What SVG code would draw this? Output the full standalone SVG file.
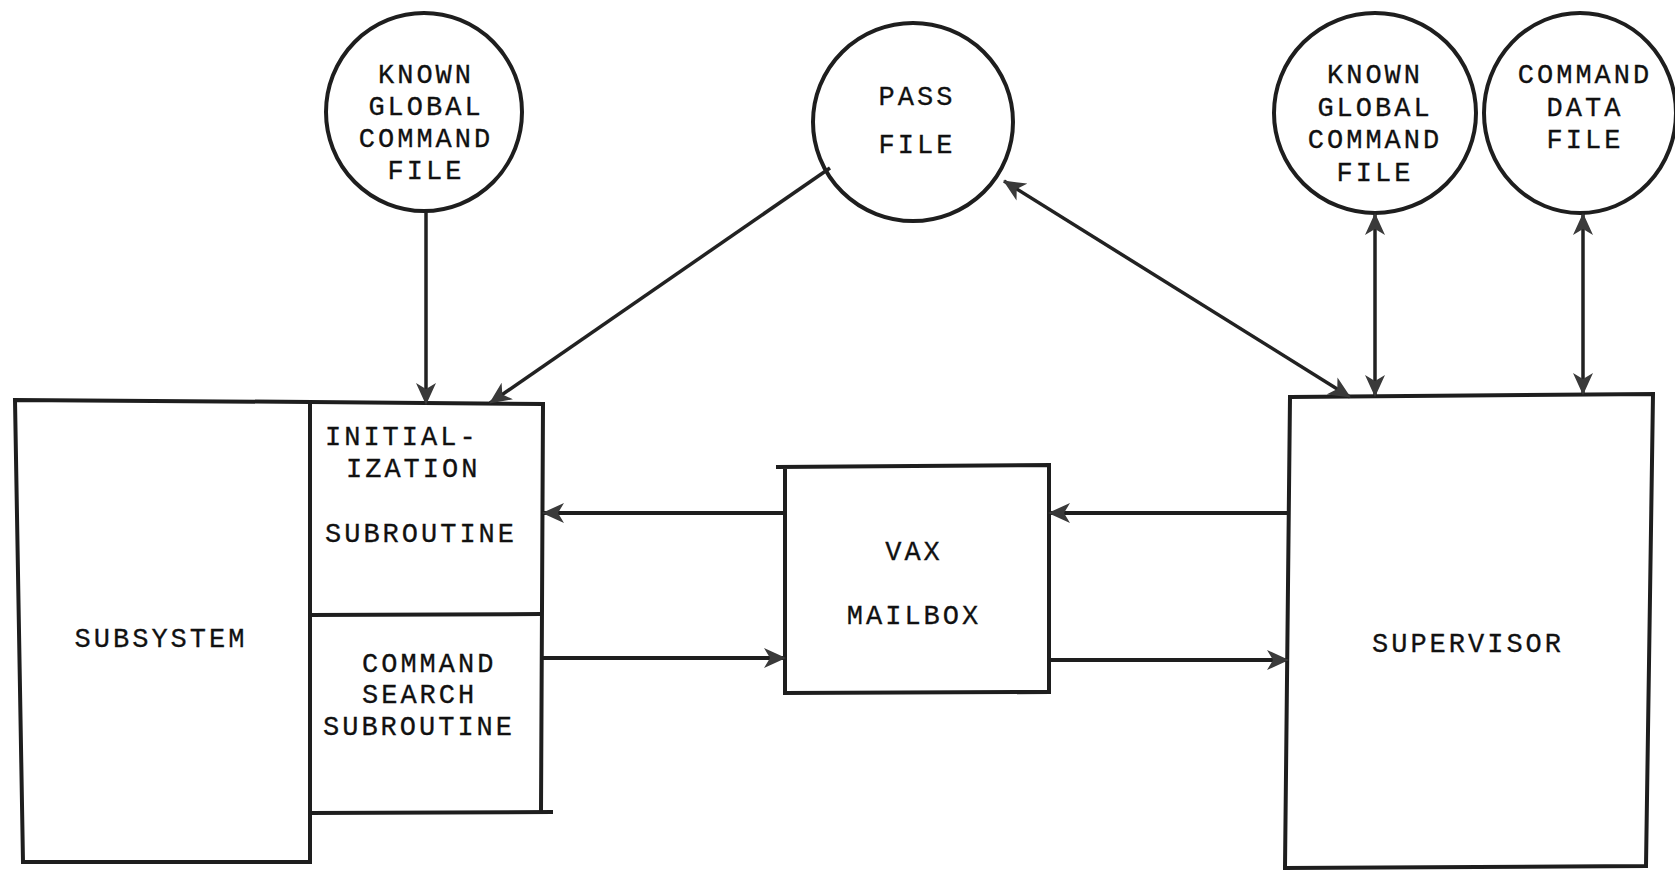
<svg xmlns="http://www.w3.org/2000/svg" width="1675" height="872" viewBox="0 0 1675 872">
<style>
.sh{fill:#fff;stroke:#1e1e1e;stroke-width:4;stroke-linejoin:miter}
.ln{fill:none;stroke:#1e1e1e;stroke-width:4}
.cn{fill:none;stroke:#222;stroke-width:3.5}
text{font-family:"Liberation Mono","Courier New",monospace;font-size:27px;letter-spacing:3px;fill:#111;stroke:#111;stroke-width:0.3}
.c{text-anchor:middle}
</style>
<defs>
<marker id="ah" viewBox="0 0 22 22" refX="21" refY="11" markerWidth="22" markerHeight="22" markerUnits="userSpaceOnUse" orient="auto-start-reverse">
<path d="M0,1 L22,11 L0,21 L6,11 Z" fill="#3a3a3a"/>
</marker>
</defs>
<rect width="1675" height="872" fill="#fff"/>

<g id="subsystem">
<path class="sh" d="M15,400 L310,402 L310,862 L23,862 Z"/>
<text x="161" y="647" class="c">SUBSYSTEM</text>
</g>

<g id="init-subroutine">
<path class="ln" d="M310,402 L543,404 L541,812"/>
<path class="ln" d="M310,615 L541,614"/>
<text x="325" y="445">INITIAL-</text>
<text x="346" y="477">IZATION</text>
<text x="325" y="542">SUBROUTINE</text>
</g>

<g id="command-search-subroutine">
<path class="ln" d="M310,813 L553,812"/>
<text x="362" y="672">COMMAND</text>
<text x="362" y="703">SEARCH</text>
<text x="323" y="735">SUBROUTINE</text>
</g>

<g id="known-global-left">
<ellipse class="sh" cx="424" cy="112" rx="98" ry="99"/>
<text x="426" y="83" class="c">KNOWN</text>
<text x="426" y="115" class="c">GLOBAL</text>
<text x="426" y="147" class="c">COMMAND</text>
<text x="426" y="179" class="c">FILE</text>
</g>

<g id="pass-file">
<ellipse class="sh" cx="913" cy="122" rx="100" ry="99"/>
<text x="917" y="105" class="c">PASS</text>
<text x="917" y="153" class="c">FILE</text>
</g>

<g id="known-global-right">
<ellipse class="sh" cx="1375" cy="113" rx="101" ry="100"/>
<text x="1375" y="83" class="c">KNOWN</text>
<text x="1375" y="116" class="c">GLOBAL</text>
<text x="1375" y="148" class="c">COMMAND</text>
<text x="1375" y="181" class="c">FILE</text>
</g>

<g id="command-data-file">
<ellipse class="sh" cx="1580" cy="113" rx="96" ry="100"/>
<text x="1585" y="83" class="c">COMMAND</text>
<text x="1585" y="116" class="c">DATA</text>
<text x="1585" y="148" class="c">FILE</text>
</g>

<g id="vax-mailbox">
<path class="sh" d="M776,467 L1049,465 L1049,692 L785,693 L785,467"/>
<text x="914" y="560" class="c">VAX</text>
<text x="914" y="624" class="c">MAILBOX</text>
</g>

<g id="supervisor">
<path class="sh" d="M1290,397 L1653,394 L1646,866 L1285,868 Z"/>
<text x="1468" y="652" class="c">SUPERVISOR</text>
</g>

<g id="connectors">
<line class="cn" x1="426" y1="212" x2="426" y2="404" marker-end="url(#ah)"/>
<line class="cn" x1="830" y1="168" x2="490" y2="403" marker-end="url(#ah)"/>
<line class="cn" x1="1004" y1="181" x2="1350" y2="397" marker-start="url(#ah)" marker-end="url(#ah)"/>
<line class="cn" x1="1375" y1="214" x2="1375" y2="396" marker-start="url(#ah)" marker-end="url(#ah)"/>
<line class="cn" x1="1583" y1="214" x2="1583" y2="394" marker-start="url(#ah)" marker-end="url(#ah)"/>
<line class="ln" x1="785" y1="513" x2="543" y2="513" marker-end="url(#ah)"/>
<line class="ln" x1="543" y1="658" x2="785" y2="658" marker-end="url(#ah)"/>
<line class="ln" x1="1289" y1="513" x2="1049" y2="513" marker-end="url(#ah)"/>
<line class="ln" x1="1049" y1="660" x2="1288" y2="660" marker-end="url(#ah)"/>
</g>
</svg>
